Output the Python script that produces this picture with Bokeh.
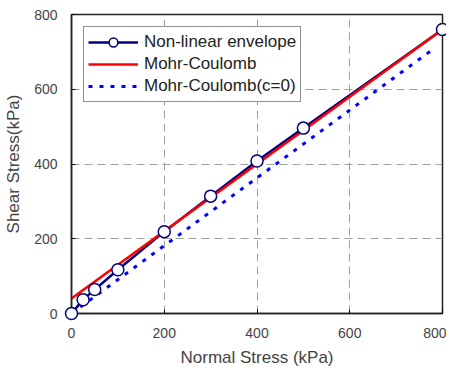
from bokeh.plotting import figure
from bokeh.models import Legend, LegendItem, FixedTicker, Range1d
from bokeh.embed import file_html
from bokeh.resources import INLINE

# data
normal_stress = [0, 25, 50, 100, 200, 300, 400, 500, 800]
shear_nonlinear = [0, 37, 64, 117, 219, 314, 408, 496, 760]
mc_x = [0, 800]
mc_y = [40, 760]
mc0_x = [0, 785]
mc0_y = [0, 712]
ticks = [0, 200, 400, 600, 800]

FONT = "Liberation Sans"

p = figure(width=446, height=369, output_backend="svg", toolbar_location=None,
           x_range=Range1d(0, 800), y_range=Range1d(0, 800),
           min_border_left=71, min_border_right=4, min_border_top=14, min_border_bottom=54)
p.outline_line_color = "#222222"
p.outline_line_width = 1.5

for ax in (p.xaxis[0], p.yaxis[0]):
    ax.ticker = FixedTicker(ticks=ticks)
    ax.major_tick_in = 4
    ax.major_tick_out = 0
    ax.minor_tick_line_color = None
    ax.axis_line_color = "#222222"
    ax.axis_line_width = 1.5
    ax.major_label_text_font = FONT
    ax.major_label_text_font_size = "14px"
    ax.major_label_text_color = "#444444"
    ax.axis_label_text_font = FONT
    ax.axis_label_text_font_size = "17px"
    ax.axis_label_text_font_style = "normal"
    ax.axis_label_text_color = "#444444"

p.xaxis.axis_label = "Normal Stress (kPa)"
p.yaxis.axis_label = "Shear Stress(kPa)"
p.xaxis.major_label_standoff = 14
p.yaxis.major_label_standoff = 14
p.xaxis.axis_label_standoff = 7
p.yaxis.axis_label_standoff = 8

for g in (p.xgrid[0], p.ygrid[0]):
    g.ticker = FixedTicker(ticks=[200, 400, 600])
    g.grid_line_color = "#a0a0a0"
    g.grid_line_dash = "8 5"
    g.grid_line_width = 1

r_c0 = p.line(mc0_x, mc0_y, line_color="#0000ff", line_width=3, line_dash="4 7")
r_line = p.line(normal_stress, shear_nonlinear, line_color="#000080", line_width=2.5)
r_mc = p.line(mc_x, mc_y, line_color="#ff0000", line_width=2.5)
r_pts = p.scatter(normal_stress, shear_nonlinear, size=12, marker="circle",
                  fill_color="white", line_color="#000080", line_width=1.5,
                  level="overlay")

legend = Legend(items=[
    LegendItem(label="Non-linear envelope", renderers=[r_line, r_pts]),
    LegendItem(label="Mohr-Coulomb", renderers=[r_mc]),
    LegendItem(label="Mohr-Coulomb(c=0)", renderers=[r_c0]),
], location="top_left")
legend.label_text_font = FONT
legend.label_text_font_size = "17px"
legend.label_text_color = "#222222"
legend.border_line_color = "#222222"
legend.border_line_width = 1
legend.glyph_width = 50
legend.glyph_height = 22
legend.label_height = 18
legend.spacing = 0
legend.padding = 4
legend.margin = 12
legend.label_standoff = 6
legend.background_fill_alpha = 1
p.add_layout(legend)

open("out.html", "w").write(file_html(p, INLINE))
